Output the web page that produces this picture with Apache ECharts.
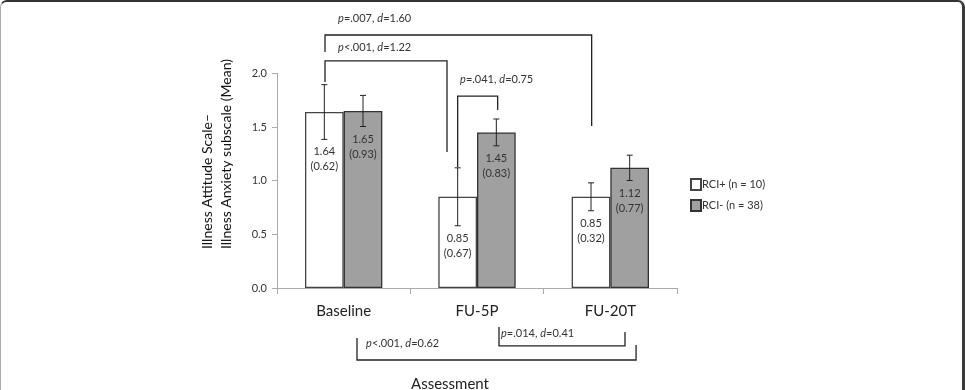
<!DOCTYPE html>
<html>
<head>
<meta charset="utf-8">
<script src="https://cdn.jsdelivr.net/npm/echarts@6/dist/echarts.min.js"></script>
<style>
html,body{margin:0;padding:0;background:#fff;}
#wrap{position:relative;width:965px;height:390px;overflow:hidden;}
#chart{position:absolute;left:0;top:0;width:965px;height:390px;}
#frame{position:absolute;left:0;top:0;height:400px;border-top:2px solid #333;border-right:3px solid #3a3a3a;border-left:1px solid #aaa;border-radius:7px 7px 0 0;pointer-events:none;box-sizing:border-box;width:965px;}
</style>
</head>
<body>
<div id="wrap"><div id="chart"></div><div id="frame"></div></div>
<script>
// ---- data ----
var categories = ['Baseline', 'FU-5P', 'FU-20T'];
var seriesNames = ['RCI+ (n = 10)', 'RCI- (n = 38)'];
var rciPlusMean = [1.64, 0.85, 0.85];
var rciMinusMean = [1.65, 1.45, 1.12];
var rciPlusSD = ['0.62', '0.67', '0.32'];
var rciMinusSD = ['0.93', '0.83', '0.77'];
var rciPlusErr = [0.255, 0.27, 0.13];
var rciMinusErr = [0.145, 0.125, 0.118];
var yTicks = [0, 0.5, 1.0, 1.5, 2.0];
// brackets: [leftCat, leftOffset, rightCat, rightOffset, lineY, leftEndY, rightEndY, labelCatOffsetFromLeft, labelY]
var brackets = [
  [0, -0.14, 2, -0.14, 2.358, 2.20, 1.51, 0.098, 2.516],
  [0, -0.14, 1, -0.225, 2.116, 1.92, 1.267, 0.098, 2.239],
  [1, -0.145, 1, 0.155, 1.789, 1.128, 1.659, 0.018, 1.948],
  [0, 0.10, 2, 0.193, -0.671, -0.466, -0.531, 0.068, -0.513],
  [1, 0.165, 2, 0.11, -0.54, -0.363, -0.41, 0.015, -0.419]
];
var bracketP = ['=.007', '<.001', '=.041', '<.001', '=.014'];
var bracketD = ['=1.60', '=1.22', '=0.75', '=0.62', '=0.41'];

var FONT = 'Lato';
var barOffset = [-0.145, 0.145];

function errData(means, errs) {
  return means.map(function (m, i) { return [i, m, errs[i]]; });
}
var sdLists = [rciPlusSD, rciMinusSD];
var meanLists = [rciPlusMean, rciMinusMean];

function makeErrRender(sIdx) {
  return function (params, api) {
    var cat = api.value(0), mean = api.value(1), err = api.value(2);
    var bw = api.size([1, 0])[0];
    var x = api.coord([cat, mean])[0] + barOffset[sIdx] * bw;
    var yt = api.coord([cat, mean + err])[1];
    var yb = api.coord([cat, mean - err])[1];
    var st = { stroke: '#222', lineWidth: 1 };
    var i = params.dataIndex;
    return {
      type: 'group',
      children: [
        { type: 'line', shape: { x1: x, y1: yt, x2: x, y2: yb }, style: st },
        { type: 'line', shape: { x1: x - 3, y1: yt, x2: x + 3, y2: yt }, style: st },
        { type: 'line', shape: { x1: x - 3, y1: yb, x2: x + 3, y2: yb }, style: st },
        { type: 'text', x: x, y: yb + 5, style: {
            text: meanLists[sIdx][i].toFixed(2) + '\n(' + sdLists[sIdx][i] + ')',
            align: 'center', verticalAlign: 'top', fill: '#333',
            font: '11px ' + FONT, lineHeight: 15 } }
      ]
    };
  };
}

function bracketRender(params, api) {
  var i = params.dataIndex;
  var b = brackets[i];
  var bw = api.size([1, 0])[0];
  var xl = api.coord([b[0], 0])[0] + b[1] * bw;
  var xr = api.coord([b[2], 0])[0] + b[3] * bw;
  var yl = api.coord([0, b[4]])[1];
  var yle = api.coord([0, b[5]])[1];
  var yre = api.coord([0, b[6]])[1];
  var xt = xl + b[7] * bw;
  var yt = api.coord([0, b[8]])[1];
  var st = { stroke: '#222', lineWidth: 1.3, fill: null };
  return {
    type: 'group',
    children: [
      { type: 'polyline', shape: { points: [[xl, yle], [xl, yl], [xr, yl], [xr, yre]] }, style: st },
      { type: 'text', x: xt, y: yt, style: {
          text: '{i|p}' + bracketP[i] + ', {i|d}' + bracketD[i],
          rich: { i: { fontStyle: 'italic', fontFamily: FONT, fontSize: 11, fill: '#333' } },
          fontFamily: FONT, fontSize: 11, fill: '#333',
          align: 'left', verticalAlign: 'middle' } }
    ]
  };
}

var chart = echarts.init(document.getElementById('chart'), null, { renderer: 'canvas' });
chart.setOption({
  animation: false,
  backgroundColor: '#fff',
  textStyle: { fontFamily: FONT },
  grid: { left: 277, right: 288, top: 73.4, bottom: 102, containLabel: false },
  legend: {
    orient: 'vertical', left: 685, top: 173, itemWidth: 10, itemHeight: 11, itemGap: 8,
    icon: 'rect',
    data: seriesNames,
    textStyle: { fontFamily: FONT, fontSize: 11, color: '#333', padding: [0, 0, 0, -4] }
  },
  xAxis: {
    type: 'category', data: categories,
    axisLine: { lineStyle: { color: '#aaa', width: 1 } },
    axisTick: { show: true, length: 6, lineStyle: { color: '#aaa' } },
    axisLabel: { color: '#222', fontSize: 15, margin: 16, fontFamily: FONT }
  },
  yAxis: {
    type: 'value', min: 0, max: 2, interval: 0.5,
    axisLine: { show: true, lineStyle: { color: '#aaa' } },
    axisTick: { show: true, length: 5, lineStyle: { color: '#aaa' } },
    splitLine: { show: false },
    axisLabel: { color: '#333', fontSize: 11, margin: 10, fontFamily: FONT,
      formatter: function (v) { return v.toFixed(1); } }
  },
  graphic: [
    { type: 'text', x: 217, y: 249, rotation: Math.PI / 2,
      style: { text: 'Illness Attitude Scale–\nIllness Anxiety subscale (Mean)',
        align: 'left', verticalAlign: 'middle', lineHeight: 19,
        font: '14px ' + FONT, fill: '#111' } },
    { type: 'text', x: 450, y: 384,
      style: { text: 'Assessment', align: 'center', verticalAlign: 'middle',
        font: '15px ' + FONT, fill: '#222' } }
  ],
  series: [
    { name: seriesNames[0], type: 'bar', data: rciPlusMean, barWidth: '29%', barGap: '0%',
      itemStyle: { color: '#ffffff', borderColor: '#444', borderWidth: 1.3 } },
    { name: seriesNames[1], type: 'bar', data: rciMinusMean, barWidth: '29%', barGap: '0%',
      itemStyle: { color: '#a0a0a0', borderColor: '#333', borderWidth: 1.3 } },
    { type: 'custom', renderItem: makeErrRender(0), data: errData(rciPlusMean, rciPlusErr), clip: false, z: 5 },
    { type: 'custom', renderItem: makeErrRender(1), data: errData(rciMinusMean, rciMinusErr), clip: false, z: 5 },
    { type: 'custom', renderItem: bracketRender, data: brackets.map(function (b) { return [b[0], b[4]]; }), clip: false, z: 6 }
  ]
});
</script>
</body>
</html>
